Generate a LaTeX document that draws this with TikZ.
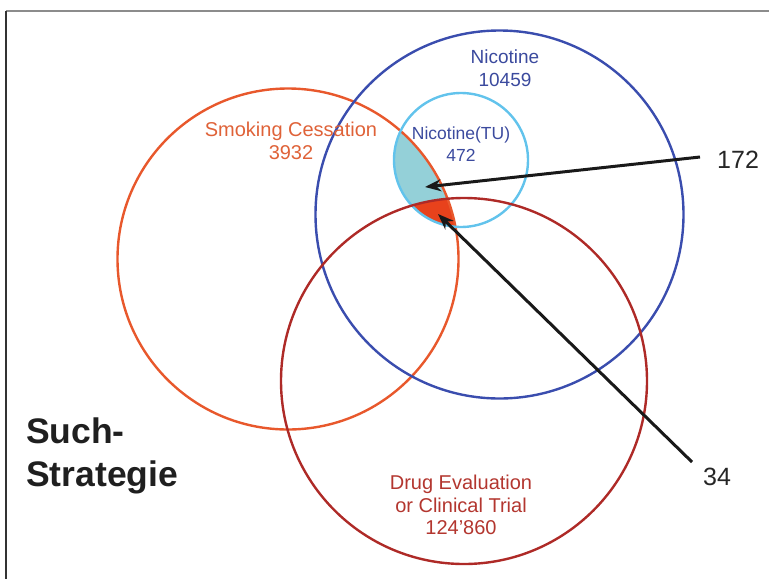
\documentclass[tikz,border=0pt]{standalone}
\usepackage{fontspec}
\setmainfont{Liberation Sans}
\usetikzlibrary{arrows.meta}
\definecolor{nicblue}{HTML}{3A4DAE}
\definecolor{nictext}{HTML}{3B4A9E}
\definecolor{tublue}{HTML}{62C3EC}
\definecolor{smokeorange}{HTML}{E8582C}
\definecolor{smoketext}{HTML}{DF6238}
\definecolor{drugred}{HTML}{AE2A27}
\definecolor{drugtext}{HTML}{B3362F}
\definecolor{tealfill}{HTML}{94D0D8}
\definecolor{redfill}{HTML}{E8421C}
\tikzset{
  ring/.style={line width=2.4pt},
  lbl/.style={font=\fontsize{20}{22.5}\selectfont, align=center, inner sep=0pt},
  numlbl/.style={font=\fontsize{25}{28}\selectfont, inner sep=0pt, text=black!85},
  pointer/.style={line width=3pt, black!90, -{Stealth[length=16pt,width=12pt]}},
  frameline/.style={line width=2pt}
}
\begin{document}
\begin{tikzpicture}[x=1pt,y=-1pt]
\useasboundingbox (0,0) rectangle (769,579);
% frame
\draw[frameline, black!45] (6,11) -- (769,11);
\draw[frameline, black!80] (6,11) -- (6,579);
% fills
\begin{scope}
  \clip (461,160) circle (67);
  \clip (288,259) circle (170.5);
  \fill[tealfill] (288,259) circle (170.5);
  \clip (464,381) circle (183);
  \fill[redfill] (464,381) circle (183);
\end{scope}
% circles
\draw[ring, smokeorange] (288,259) circle (170.5);
\draw[ring, nicblue] (499.5,214.5) circle (184);
\draw[ring, tublue] (461,160) circle (67);
\draw[ring, drugred] (464,381) circle (183);
% labels
\node[lbl, font=\fontsize{19}{22.5}\selectfont, text=nictext] (nic) at (505,68) {Nicotine\\10459};
\node[lbl, font=\fontsize{17.5}{21.5}\selectfont, text=nictext] (tu) at (461,144) {Nicotine(TU)\\472};
\node[lbl, text=smoketext] (smk) at (291,141) {Smoking Cessation\\3932};
\node[lbl, text=drugtext] (drug) at (461,505) {Drug Evaluation\\or Clinical Trial\\124'860};
\node[font=\fontsize{35.5}{43}\bfseries\selectfont, align=left, anchor=north west, inner sep=0pt, text=black!88] (such) at (26,418) {Such-\\Strategie};
\node[numlbl, anchor=west] (n172) at (717,160) {172};
\node[numlbl, anchor=west] (n34) at (703,477) {34};
% pointers
\coordinate (t172) at (425,187);
\coordinate (t34) at (438,214);
\coordinate (s172) at (700,157);
\coordinate (s34) at (692,462);
\draw[pointer] (s172) -- (t172);
\draw[pointer] (s34) -- (t34);
\end{tikzpicture}
\end{document}
